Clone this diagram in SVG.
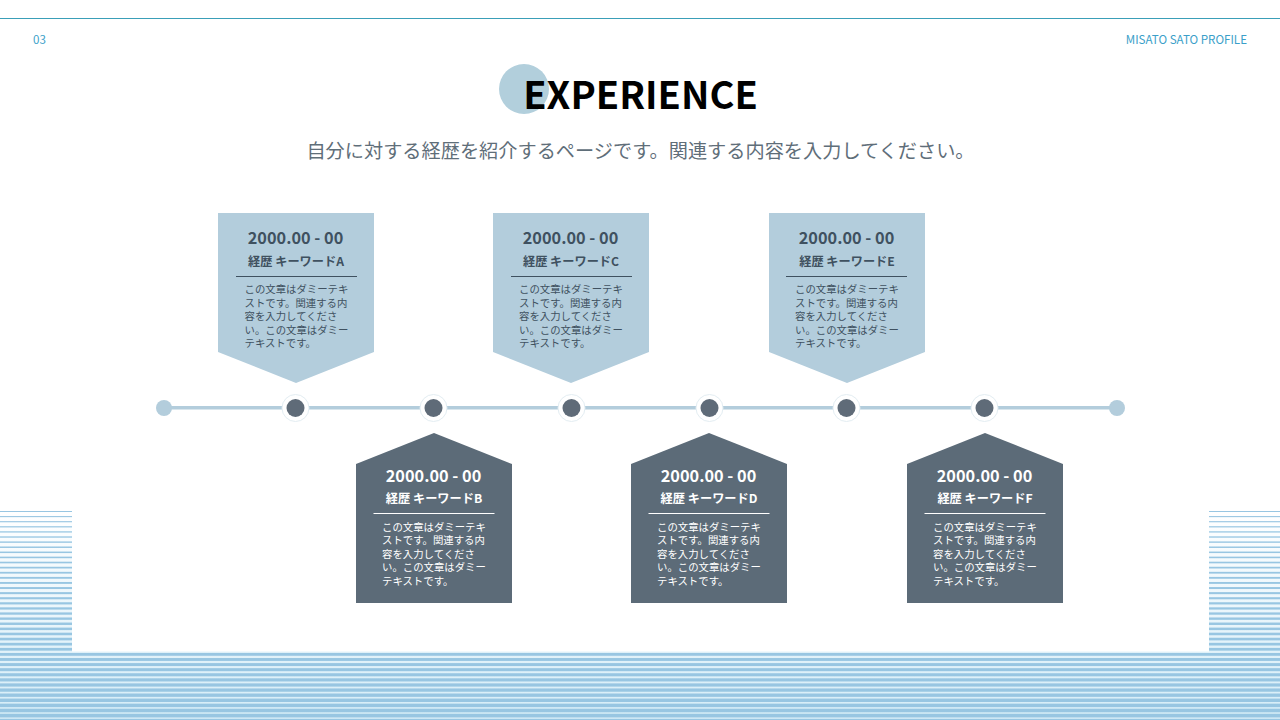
<svg xmlns="http://www.w3.org/2000/svg" width="1280" height="720" viewBox="0 0 1280 720">
<style>
text{font-family:"Noto Sans CJK JP","Noto Sans",sans-serif}
.mid{text-anchor:middle}
.date{font-size:16.300px;font-weight:700;text-anchor:middle}
.key{font-size:12.200px;font-weight:700;text-anchor:middle}
.body{font-size:10.400px}
.lt .shape{fill:#b3cddc}
.dk .shape{fill:#5c6b78}
.lt text{fill:#3f5160}
.dk text{fill:#fff}
.lt .rule{fill:#3f5160}
.dk .rule{fill:#fff}
.dot{fill:#5f6b78}
.ring{fill:#fff;stroke:#e3edf2;stroke-width:1}
.end{fill:#b3cddc}
.hd{font-size:11.600px;font-weight:400;fill:#3b9fc9}
</style>
<defs>
<linearGradient id="pale" x1="0" y1="0" x2="0" y2="1"><stop offset="0" stop-color="#fff"/><stop offset="1" stop-color="#d4ecf7"/></linearGradient>
</defs>
<rect width="1280" height="720" fill="#fff"/>
<rect x="0" y="511" width="1280" height="209" fill="url(#pale)"/>
<g id="stripes" fill="#98c6e2">
<rect x="0" width="1280" y="511" height="1"/><rect x="0" width="1280" y="516.07" height="1.07"/><rect x="0" width="1280" y="521.14" height="1.13"/><rect x="0" width="1280" y="526.21" height="1.2"/><rect x="0" width="1280" y="531.28" height="1.26"/><rect x="0" width="1280" y="536.35" height="1.33"/><rect x="0" width="1280" y="541.42" height="1.39"/><rect x="0" width="1280" y="546.49" height="1.46"/><rect x="0" width="1280" y="551.56" height="1.52"/><rect x="0" width="1280" y="556.63" height="1.59"/><rect x="0" width="1280" y="561.7" height="1.65"/><rect x="0" width="1280" y="566.77" height="1.72"/><rect x="0" width="1280" y="571.84" height="1.78"/><rect x="0" width="1280" y="576.91" height="1.85"/><rect x="0" width="1280" y="581.98" height="1.91"/><rect x="0" width="1280" y="587.05" height="1.98"/><rect x="0" width="1280" y="592.12" height="2.04"/><rect x="0" width="1280" y="597.19" height="2.11"/><rect x="0" width="1280" y="602.26" height="2.17"/><rect x="0" width="1280" y="607.33" height="2.24"/><rect x="0" width="1280" y="612.4" height="2.3"/><rect x="0" width="1280" y="617.47" height="2.37"/><rect x="0" width="1280" y="622.54" height="2.43"/><rect x="0" width="1280" y="627.61" height="2.5"/><rect x="0" width="1280" y="632.68" height="2.56"/><rect x="0" width="1280" y="637.75" height="2.63"/><rect x="0" width="1280" y="642.82" height="2.69"/><rect x="0" width="1280" y="647.89" height="2.76"/><rect x="0" width="1280" y="652.96" height="2.82"/><rect x="0" width="1280" y="658.03" height="2.89"/><rect x="0" width="1280" y="663.1" height="2.95"/><rect x="0" width="1280" y="668.17" height="3.02"/><rect x="0" width="1280" y="673.24" height="3.08"/><rect x="0" width="1280" y="678.31" height="3.15"/><rect x="0" width="1280" y="683.38" height="3.21"/><rect x="0" width="1280" y="688.45" height="3.28"/><rect x="0" width="1280" y="693.52" height="3.34"/><rect x="0" width="1280" y="698.59" height="3.41"/><rect x="0" width="1280" y="703.66" height="3.47"/><rect x="0" width="1280" y="708.73" height="3.54"/><rect x="0" width="1280" y="713.8" height="3.6"/><rect x="0" width="1280" y="718.87" height="1.13"/>
</g>
<rect x="72" y="500" width="1137" height="151.500" fill="#fff"/>
<rect x="0" y="18" width="1280" height="1" fill="#3a9fb8"/>
<text x="33" y="44" class="hd">03</text>
<text x="1247" y="44" class="hd" text-anchor="end">MISATO SATO PROFILE</text>
<circle cx="524" cy="89" r="25" fill="#b2cfdc"/>
<text x="640.500" y="109" font-size="38" font-weight="700" class="mid" fill="#000">EXPERIENCE</text>
<text x="640.500" y="157.500" font-size="19.200" class="mid" fill="#5f6e79">自分に対する経歴を紹介するページです。関連する内容を入力してください。</text>
<g id="connectors">
<rect x="164" y="406" width="953" height="3.500" fill="#b3cddc"/>
</g>
<g id="dot-start"><circle class="end" cx="164" cy="408" r="8"/></g>
<g id="dot-1"><circle class="ring" cx="295.500" cy="408" r="13.500"/><circle class="dot" cx="295.500" cy="408" r="9"/></g>
<g id="dot-2"><circle class="ring" cx="433.500" cy="408" r="13.500"/><circle class="dot" cx="433.500" cy="408" r="9"/></g>
<g id="dot-3"><circle class="ring" cx="571.500" cy="408" r="13.500"/><circle class="dot" cx="571.500" cy="408" r="9"/></g>
<g id="dot-4"><circle class="ring" cx="709.500" cy="408" r="13.500"/><circle class="dot" cx="709.500" cy="408" r="9"/></g>
<g id="dot-5"><circle class="ring" cx="846.500" cy="408" r="13.500"/><circle class="dot" cx="846.500" cy="408" r="9"/></g>
<g id="dot-6"><circle class="ring" cx="984.500" cy="408" r="13.500"/><circle class="dot" cx="984.500" cy="408" r="9"/></g>
<g id="dot-end"><circle class="end" cx="1117" cy="408" r="8"/></g>

<g id="card-a" class="lt" transform="translate(218,0)">
<path class="shape" d="M0 213H156V352L78 383L0 352Z"/>
<text class="date" x="77.500" y="243.700">2000.00 - 00</text>
<text class="key" x="78" y="266">経歴 キーワードA</text>
<rect class="rule" x="18" y="276" width="121" height="1"/>
<text class="body"><tspan x="26.500" y="293">この文章はダミーテキ</tspan><tspan x="26.500" y="306.600">ストです。関連する内</tspan><tspan x="26.500" y="320.200">容を入力してくださ</tspan><tspan x="26.500" y="333.800">い。この文章はダミー</tspan><tspan x="26.500" y="347.400">テキストです。</tspan></text>
</g>
<g id="card-c" class="lt" transform="translate(493,0)">
<path class="shape" d="M0 213H156V352L78 383L0 352Z"/>
<text class="date" x="77.500" y="243.700">2000.00 - 00</text>
<text class="key" x="78" y="266">経歴 キーワードC</text>
<rect class="rule" x="18" y="276" width="121" height="1"/>
<text class="body"><tspan x="26" y="293">この文章はダミーテキ</tspan><tspan x="26" y="306.600">ストです。関連する内</tspan><tspan x="26" y="320.200">容を入力してくださ</tspan><tspan x="26" y="333.800">い。この文章はダミー</tspan><tspan x="26" y="347.400">テキストです。</tspan></text>
</g>
<g id="card-e" class="lt" transform="translate(769,0)">
<path class="shape" d="M0 213H156V352L78 383L0 352Z"/>
<text class="date" x="77.500" y="243.700">2000.00 - 00</text>
<text class="key" x="78" y="266">経歴 キーワードE</text>
<rect class="rule" x="17" y="276" width="121" height="1"/>
<text class="body"><tspan x="26" y="293">この文章はダミーテキ</tspan><tspan x="26" y="306.600">ストです。関連する内</tspan><tspan x="26" y="320.200">容を入力してくださ</tspan><tspan x="26" y="333.800">い。この文章はダミー</tspan><tspan x="26" y="347.400">テキストです。</tspan></text>
</g>
<g id="card-b" class="dk" transform="translate(356,0)">
<path class="shape" d="M0 464L78 433L156 464V603H0Z"/>
<text class="date" x="77.500" y="481.700">2000.00 - 00</text>
<text class="key" x="78" y="503">経歴 キーワードB</text>
<rect class="rule" x="17.500" y="513" width="121" height="1"/>
<text class="body"><tspan x="26" y="530.500">この文章はダミーテキ</tspan><tspan x="26" y="544.100">ストです。関連する内</tspan><tspan x="26" y="557.700">容を入力してくださ</tspan><tspan x="26" y="571.300">い。この文章はダミー</tspan><tspan x="26" y="584.900">テキストです。</tspan></text>
</g>
<g id="card-d" class="dk" transform="translate(631,0)">
<path class="shape" d="M0 464L78 433L156 464V603H0Z"/>
<text class="date" x="77.500" y="481.700">2000.00 - 00</text>
<text class="key" x="78" y="503">経歴 キーワードD</text>
<rect class="rule" x="17.500" y="513" width="121" height="1"/>
<text class="body"><tspan x="26" y="530.500">この文章はダミーテキ</tspan><tspan x="26" y="544.100">ストです。関連する内</tspan><tspan x="26" y="557.700">容を入力してくださ</tspan><tspan x="26" y="571.300">い。この文章はダミー</tspan><tspan x="26" y="584.900">テキストです。</tspan></text>
</g>
<g id="card-f" class="dk" transform="translate(907,0)">
<path class="shape" d="M0 464L78 433L156 464V603H0Z"/>
<text class="date" x="77.500" y="481.700">2000.00 - 00</text>
<text class="key" x="78" y="503">経歴 キーワードF</text>
<rect class="rule" x="17.500" y="513" width="121" height="1"/>
<text class="body"><tspan x="26" y="530.500">この文章はダミーテキ</tspan><tspan x="26" y="544.100">ストです。関連する内</tspan><tspan x="26" y="557.700">容を入力してくださ</tspan><tspan x="26" y="571.300">い。この文章はダミー</tspan><tspan x="26" y="584.900">テキストです。</tspan></text>
</g>
</svg>
